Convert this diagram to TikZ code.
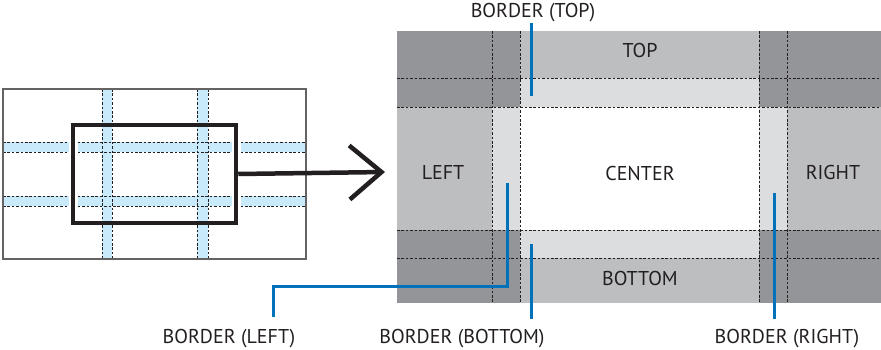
\documentclass[tikz,border=0pt]{standalone}
\usepackage{fontspec}
\setmainfont{PT Sans}
\usetikzlibrary{arrows.meta,positioning}
\definecolor{rg-dark}{HTML}{939598}
\definecolor{rg-mid}{HTML}{BCBEC0}
\definecolor{rg-light}{HTML}{DCDDDE}
\definecolor{rg-band}{HTML}{C8EAFA}
\definecolor{rg-lead}{HTML}{0072BC}
\definecolor{rg-ink}{HTML}{231F20}
\tikzset{
  region/.style={inner sep=0pt, text=rg-ink, font=\fontsize{20}{24}\selectfont},
  callout/.style={inner sep=0pt, text=rg-ink, font=\fontsize{20}{24}\selectfont},
  gridline/.style={rg-ink, line width=0.9pt, dash pattern=on 2.6pt off 1.8pt},
  leader/.style={rg-lead, line width=3pt},
}

\begin{document}
\begin{tikzpicture}[x=1pt, y=-1pt]
    \useasboundingbox (0,0) rectangle (881,350);
    % small screen with the blending bands
    \fill[rg-band] (102,89) rectangle (112,259);
    \fill[rg-band] (197,89) rectangle (208,259);
    \fill[rg-band] (3,142) rectangle (306,152);
    \fill[rg-band] (3,196) rectangle (306,206);
    \foreach \x in {102,112,197,208}
        \draw[gridline] (\x,89) -- (\x,259);
    \foreach \y in {142,152,196,206}
        \draw[gridline] (3,\y) -- (306,\y);
    \draw[rg-ink!70, line width=1.3pt] (3,89) rectangle (306,259);
    \draw[white, line width=9pt] (73,140) -- (73,210) (236,140) -- (236,210);
    \node[draw=rg-ink, line width=4.5pt, minimum width=163pt, minimum height=98pt, inner sep=0pt] (frame) at (154.5,174) {};
    \coordinate (tip) at (385,172);
    \draw[rg-ink, line width=4.5pt, -{Straight Barb[length=32pt, width=54pt]}] (frame.east) -- (tip);
    % enlarged frame
    \fill[rg-dark] (397,31) rectangle (520,107);
    \fill[rg-dark] (759,31) rectangle (881,107);
    \fill[rg-dark] (397,230) rectangle (520,303);
    \fill[rg-dark] (759,230) rectangle (881,303);
    \fill[rg-mid] (520,31) rectangle (759,78);
    \fill[rg-mid] (520,258) rectangle (759,303);
    \fill[rg-mid] (397,107) rectangle (492,230);
    \fill[rg-mid] (787,107) rectangle (881,230);
    \fill[rg-light] (520,78) rectangle (759,107);
    \fill[rg-light] (520,230) rectangle (759,258);
    \fill[rg-light] (492,107) rectangle (520,230);
    \fill[rg-light] (759,107) rectangle (787,230);
    \foreach \x in {492,520,759,787}
        \draw[gridline] (\x,31) -- (\x,303);
    \foreach \y in {78,107,230,258}
        \draw[gridline] (397,\y) -- (881,\y);
    \node[region] (top) at (640,51) {TOP};
    \node[region] (left) at (443,172) {LEFT};
    \node[region] (center) at (640,173) {CENTER};
    \node[region] (right) at (833,172) {RIGHT};
    \node[region] (bottom) at (640,278) {BOTTOM};
    % callouts
    \node[callout] (lbltop) at (533,13) {BORDER (TOP)};
    \node[callout] (lblleft) at (229,339) {BORDER (LEFT)};
    \node[callout] (lblbottom) at (462,339) {BORDER (BOTTOM)};
    \node[callout] (lblright) at (787,339) {BORDER (RIGHT)};
    \coordinate (btop) at (531,96);
    \coordinate (bleft) at (507,183);
    \coordinate (kneel) at (273,286);
    \coordinate (bbottom) at (531,244);
    \coordinate (bright) at (774,193);
    \draw[leader] (btop) -- (btop |- lbltop.south);
    \draw[leader, shorten >=12pt] (bleft) |- (kneel) -- (kneel |- lblleft.north);
    \draw[leader, shorten >=10pt] (bbottom) -- (bbottom |- lblbottom.north);
    \draw[leader, shorten >=10pt] (bright) -- (bright |- lblright.north);
\end{tikzpicture}
\end{document}
